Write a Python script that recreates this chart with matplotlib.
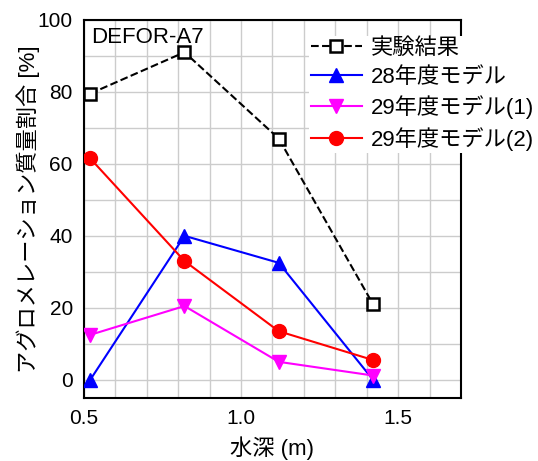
import matplotlib.pyplot as plt

plt.rcParams['font.family'] = ['Liberation Sans', 'Noto Sans CJK JP', 'DejaVu Sans']
plt.rcParams['font.size'] = 15

# 水深と各系列の質量割合
depth = [0.52, 0.82, 1.12, 1.42]
exp_result = [79.5, 91, 67, 21]
model_28 = [0, 40, 32.5, 0]
model_29_1 = [12.5, 20.5, 5, 1.2]
model_29_2 = [61.5, 33, 13.5, 5.5]

fig = plt.figure(figsize=(5.38, 4.61), dpi=100)
ax = fig.add_axes([0.156, 0.137, 0.701, 0.82])

ax.plot(depth, exp_result, "k--", marker="s", ms=9, mfc="white", mec="black",
        mew=1.8, lw=1.5, label="実験結果", zorder=5)
ax.plot(depth, model_28, color="blue", marker="^", ms=10, lw=1.5,
        label="28年度モデル", zorder=4)
ax.plot(depth, model_29_1, color="magenta", marker="v", ms=10, lw=1.5,
        label="29年度モデル(1)", zorder=4)
ax.plot(depth, model_29_2, color="red", marker="o", ms=10, lw=1.5,
        label="29年度モデル(2)", zorder=4)

ax.set_xlim(0.5, 1.7)
ax.set_ylim(-5, 100)
ax.set_xticks([0.5, 1.0, 1.5])
ax.set_xticklabels(["0.5", "1.0", "1.5"])
ax.set_yticks([0, 20, 40, 60, 80, 100])
ax.set_xticks([0.5 + 0.1 * i for i in range(13)], minor=True)
ax.set_yticks([10 * i for i in range(11)], minor=True)
ax.grid(True, which="both", color="#cccccc", lw=1)
ax.set_axisbelow(True)
ax.tick_params(which="both", length=0, pad=8)
for s in ax.spines.values():
    s.set_linewidth(1.5)

ax.set_xlabel("水深 (m)", fontsize=16, labelpad=6)
ax.set_ylabel("アグロメレーション質量割合 [%]", fontsize=16, labelpad=-2)
ax.text(0.02, 0.98, "DEFOR-A7", transform=ax.transAxes, ha="left", va="top",
        fontsize=16)

leg = ax.legend(loc="upper left", bbox_to_anchor=(0.553, 0.947),
                bbox_transform=fig.transFigure, handlelength=2.3,
                handletextpad=0.4, labelspacing=0.35, borderpad=0.1,
                frameon=True, fancybox=False, edgecolor="none",
                facecolor="white", framealpha=1, fontsize=16)
leg.set_zorder(10)

fig.savefig("out.png")
